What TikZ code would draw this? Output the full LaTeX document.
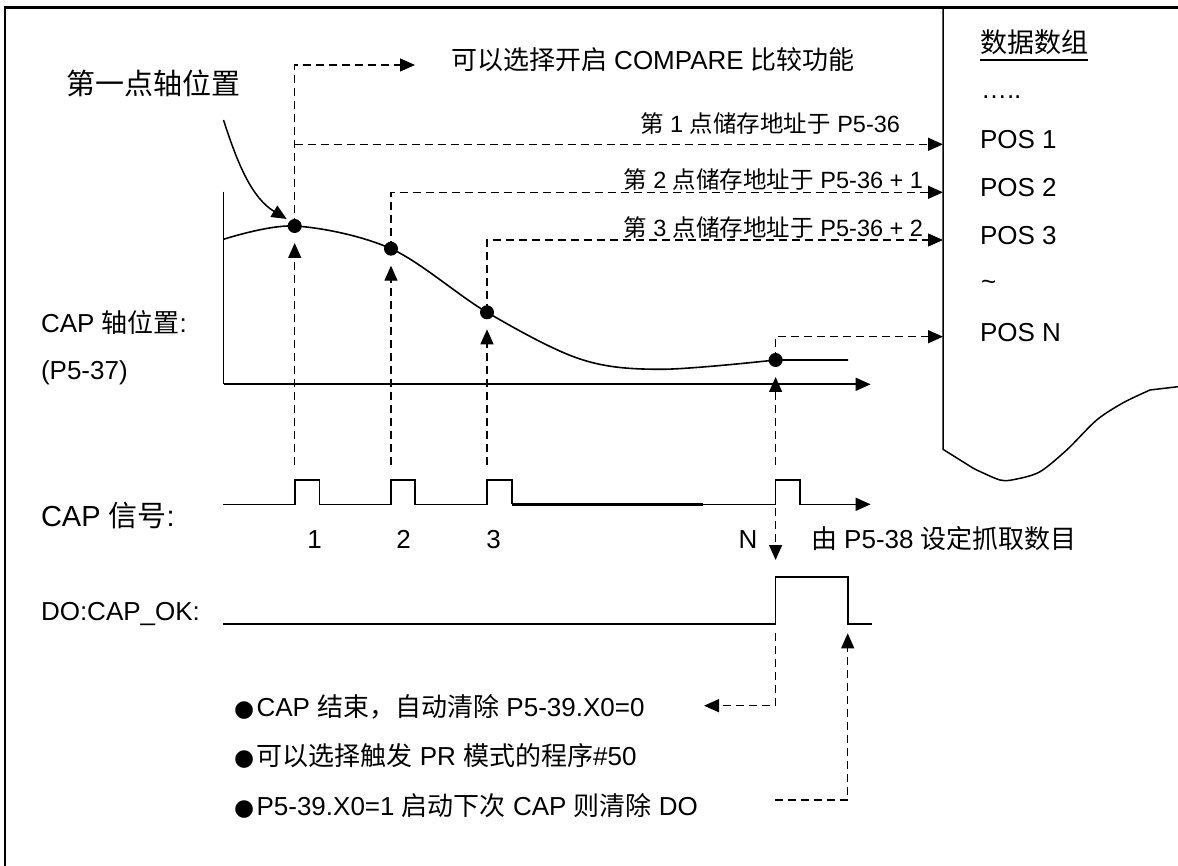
\documentclass[tikz,border=0pt]{standalone}
\usepackage{fontspec}
\setmainfont{Liberation Sans}
\newfontfamily\zhfont{Noto Sans CJK SC}
\newfontfamily\djvfont{DejaVu Sans}
\newcommand\zh[1]{{\zhfont #1}}
\usetikzlibrary{arrows.meta}
\tikzset{
  fs/.style={font=\fontsize{#1}{#1}\selectfont},
  txt/.style={inner sep=0pt, outer sep=0pt},
  solidln/.style={line width=1.6pt},
  dashln/.style={line width=1.3pt, dash pattern=on 8pt off 5pt},
  arr/.style={-{Triangle[length=15pt,width=13pt]}},
  capdot/.style={circle, fill=black, draw=none, inner sep=0pt, minimum size=14pt},
}
\newcommand\bul{{\djvfont\fontsize{23}{23}\selectfont ●}\hspace{2.5pt}}
\begin{document}
\begin{tikzpicture}[x=1pt,y=-1pt]
\useasboundingbox (0,0) rectangle (1178,866);
% frame
\draw[line width=2.4pt] (5,866) -- (5,7.6) -- (1178,7.6);
% data array box
\draw[line width=1.5pt] (943,7.6) -- (943,449.3)
  -- (973.3,468.3) -- plot[smooth,tension=0.5] coordinates {(973.3,468.3) (1000,480) (1016.7,479) (1040,471.7) (1066.7,450) (1096.7,420) (1123.3,402.7) (1150,390)} -- (1178,386.7);

% axes
\coordinate (ax0) at (223.5,384.3);
\coordinate (axtop) at (223.5,191.7);
\coordinate (axend) at (870.6,384.3);
\draw[solidln] (axtop) -- (ax0);
\draw[solidln,arr] (ax0) -- (axend);

% curve
\draw[solidln] plot[smooth,tension=0.55] coordinates {(223.5,239.3) (294.7,226) (391,248.7) (487,312.3) (580,359) (660,369.3) (775.6,360)} -- (848,360);

% dots
\node[capdot] (d1) at (294.7,226) {};
\node[capdot] (d2) at (391,248.7) {};
\node[capdot] (d3) at (487,312.3) {};
\node[capdot] (dN) at (775.6,360) {};

% coordinates for dashed connectors
\coordinate (c1top) at (294.7,65);
\coordinate (cmpend) at (415,65);
\coordinate (j1) at (294.7,144.3);
\coordinate (box1) at (943,144.3);
\coordinate (j2) at (391,192.3);
\coordinate (box2) at (943,192.3);
\coordinate (j3) at (487,240);
\coordinate (box3) at (943,240);
\coordinate (jN) at (775.6,336.7);
\coordinate (boxN) at (943,336.7);

\draw[dashln,arr] (d1.center) -- (c1top) -- (cmpend);
\draw[dashln,arr] (j1) -- (box1);
\draw[dashln,arr] (d2.center) -- (j2) -- (box2);
\draw[dashln,arr] (d3.center) -- (j3) -- (box3);
\draw[dashln,arr] (dN.center) -- (jN) -- (boxN);

% upward arrows from CAP pulses to dots
\coordinate (b1) at (294.7,465);
\coordinate (b2) at (391,465);
\coordinate (b3) at (487,465);
\coordinate (bN) at (775.6,465);
\draw[dashln,arr] (b1) -- ([yshift=-17pt]d1.center);
\draw[dashln,arr] (b2) -- ([yshift=-17pt]d2.center);
\draw[dashln,arr] (b3) -- ([yshift=-17pt]d3.center);
\draw[dashln,arr] (bN) -- ([yshift=-17pt]dN.center);

% CAP signal
\draw[solidln] (222.7,504.3) -- (294.7,504.3) -- (294.7,480) -- (319.6,480) -- (319.6,504.3)
  -- (391,504.3) -- (391,480) -- (415.2,480) -- (415.2,504.3)
  -- (487,504.3) -- (487,480) -- (512,480) -- (512,504.3);
\draw[line width=3.2pt] (512,504.3) -- (702.8,504.3);
\draw[solidln,arr] (702.8,504.3) -- (775.6,504.3) -- (775.6,480) -- (800,480) -- (800,504.3) -- (870.6,504.3);

% N down arrow
\coordinate (nd0) at (775.6,508);
\coordinate (nd1) at (775.6,560);
\draw[dashln,arr] (nd0) -- (nd1);

% DO signal
\draw[solidln] (222.7,624) -- (775.6,624) -- (775.6,576.7) -- (848,576.7) -- (848,624) -- (871.8,624);

% bottom dashed connectors
\coordinate (do0) at (775.6,633);
\coordinate (do1) at (775.6,705.7);
\coordinate (do2) at (704,705.7);
\draw[dashln,arr] (do0) -- (do1) -- (do2);
\coordinate (cl0) at (774.5,800);
\coordinate (cl1) at (847.7,800);
\coordinate (cl2) at (847.7,633.3);
\draw[dashln,arr] (cl0) -- (cl1) -- (cl2);

% texts
\node[txt,fs=29,anchor=base west] (tfirst) at (66,95) {\zh{第一点轴位置}};
\draw[line width=1.5pt,arr] (223.5,120) .. controls (238,165) and (252,198) .. ([xshift=-8pt,yshift=7pt]d1.center);
\node[txt,fs=26,anchor=base west] (tcmp) at (451,70) {\zh{可以选择开启} COMPARE \zh{比较功能}};
\node[txt,fs=23.5,anchor=base east] (l1) at (900,132.5) {\zh{第} 1 \zh{点储存地址于} P5-36};
\node[txt,fs=23.5,anchor=base east] (l2) at (923,188.3) {\zh{第} 2 \zh{点储存地址于} P5-36 + 1};
\node[txt,fs=23.5,anchor=base east] (l3) at (923,236.7) {\zh{第} 3 \zh{点储存地址于} P5-36 + 2};

\node[txt,fs=27,anchor=base west] (ttl) at (980,53) {\zh{数据数组}};
\draw[line width=1.8pt] ([yshift=-7pt]ttl.base west) -- ([yshift=-7pt]ttl.base east);
\node[txt,fs=26,anchor=base west] (ell) at (981,99) {…..};
\node[txt,fs=26,anchor=base west] (p1) at (980,148.3) {POS 1};
\node[txt,fs=26,anchor=base west] (p2) at (980,196.7) {POS 2};
\node[txt,fs=26,anchor=base west] (p3) at (980,245) {POS 3};
\node[txt,fs=26,anchor=base west] (pt) at (981,291) {\textasciitilde};
\node[txt,fs=26,anchor=base west] (pN) at (980,341.7) {POS N};

\node[txt,fs=26,anchor=base west] (capax) at (41,333) {CAP \zh{轴位置}:};
\node[txt,fs=26,anchor=base west] (p537) at (41,380) {(P5-37)};
\node[txt,fs=29,anchor=base west] (capsig) at (41,526.7) {CAP \zh{信号}:};
\node[txt,fs=26,anchor=base] (n1) at (314.6,548.3) {1};
\node[txt,fs=26,anchor=base] (n2) at (403.7,548.3) {2};
\node[txt,fs=26,anchor=base] (n3) at (493.7,548.3) {3};
\node[txt,fs=26,anchor=base] (nN) at (748,548.3) {N};
\node[txt,fs=26,anchor=base west] (p538) at (811,548.3) {\zh{由} P5-38 \zh{设定抓取数目}};
\node[txt,fs=26,anchor=base west] (doname) at (41,620) {DO:CAP\_OK:};

\node[txt,fs=26,anchor=base west] (bl1) at (234,716.7) {\bul CAP \zh{结束，自动清除} P5-39.X0=0};
\node[txt,fs=26,anchor=base west] (bl2) at (234,765) {\bul \zh{可以选择触发} PR \zh{模式的程序}\#50};
\node[txt,fs=26,anchor=base west] (bl3) at (234,815) {\bul P5-39.X0=1 \zh{启动下次} CAP \zh{则清除} DO};
\end{tikzpicture}
\end{document}
